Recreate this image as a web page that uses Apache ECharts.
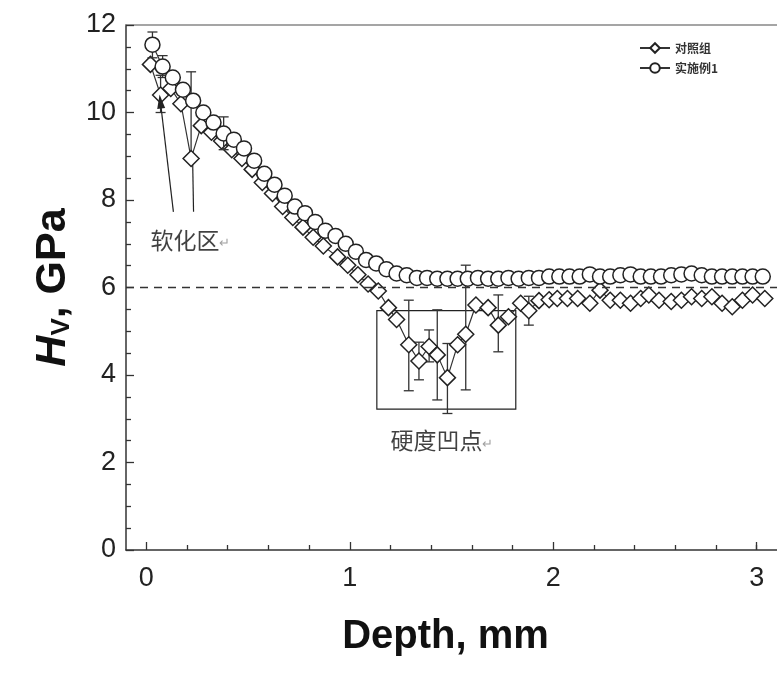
<!DOCTYPE html>
<html><head><meta charset="utf-8">
<script src="https://cdn.jsdelivr.net/npm/echarts@6/dist/echarts.min.js"></script>
<style>html,body{margin:0;padding:0;background:#fff}#c{width:777px;height:678px}</style>
</head><body><div id="c"></div>
<script>
// ---- data ----
const seriesNames = ['对照组', '实施例1'];
const ctrlX = [0.02,0.07,0.12,0.17,0.22,0.27,0.32,0.37,0.42,0.47,0.52,0.57,0.62,0.67,0.72,0.77,0.82,0.87,0.94,0.99,1.04,1.09,1.14,1.19,1.23,1.29,1.34,1.39,1.43,1.48,1.53,1.57,1.62,1.68,1.73,1.78,1.84,1.88,1.93,1.98,2.02,2.07,2.12,2.18,2.23,2.28,2.33,2.38,2.43,2.47,2.52,2.58,2.63,2.68,2.73,2.78,2.83,2.88,2.93,2.98,3.04];
const ctrlY = [11.1,10.4,10.55,10.2,8.95,9.7,9.55,9.35,9.15,8.95,8.7,8.4,8.15,7.85,7.6,7.38,7.15,6.95,6.7,6.51,6.29,6.08,5.92,5.54,5.27,4.69,4.32,4.65,4.46,3.94,4.69,4.93,5.6,5.54,5.14,5.33,5.64,5.47,5.7,5.72,5.75,5.75,5.75,5.64,5.94,5.71,5.71,5.64,5.75,5.83,5.71,5.68,5.71,5.79,5.75,5.79,5.64,5.56,5.71,5.83,5.75];
const exX = [0.03,0.08,0.13,0.18,0.23,0.28,0.33,0.38,0.43,0.48,0.53,0.58,0.63,0.68,0.73,0.78,0.83,0.88,0.93,0.98,1.03,1.08,1.13,1.18,1.23,1.28,1.33,1.38,1.43,1.48,1.53,1.58,1.63,1.68,1.73,1.78,1.83,1.88,1.93,1.98,2.03,2.08,2.13,2.18,2.23,2.28,2.33,2.38,2.43,2.48,2.53,2.58,2.63,2.68,2.73,2.78,2.83,2.88,2.93,2.98,3.03];
const exY = [11.55,11.05,10.8,10.52,10.27,10.0,9.77,9.52,9.38,9.18,8.9,8.6,8.35,8.1,7.85,7.7,7.5,7.3,7.18,7.0,6.82,6.63,6.55,6.42,6.32,6.28,6.22,6.22,6.2,6.2,6.2,6.2,6.22,6.2,6.2,6.22,6.2,6.22,6.22,6.25,6.25,6.25,6.25,6.3,6.25,6.25,6.28,6.3,6.25,6.25,6.25,6.28,6.3,6.32,6.28,6.25,6.25,6.25,6.25,6.25,6.25];
// error bars: [x, low, high]
const ctrlErr = [[0.07,10.0,10.85],[0.22,8.95,10.93],[1.29,3.64,5.71],[1.34,3.89,4.75],[1.39,4.3,5.03],[1.43,3.43,5.49],[1.48,3.12,4.72],[1.57,3.66,6.51],[1.73,4.53,5.83],[1.88,5.14,5.8]];
const exErr = [[0.03,11.25,11.84],[0.08,10.8,11.3],[0.38,9.15,9.9]];
const xMajorTicks = [0,1,2,3];
const xMinorTicks = [0.2,0.4,0.6,0.8,1.2,1.4,1.6,1.8,2.2,2.4,2.6,2.8,3.0];
const refLineY = 6;
const dipBox = [[1.133,5.47],[1.816,3.22]];
const annotations = [[0.02,7.09,'软化区'],[1.2,2.51,'硬度凹点']];
const arrows = [[[0.133,7.73],[0.069,10.25]],[[0.232,7.73],[0.228,8.8]]];

// ---- chart ----
const chart = echarts.init(document.getElementById('c'), null, {renderer:'canvas'});
const zip = (a,b)=>a.map((v,i)=>[v,b[i]]);
function errSeries(data, z){
  return {type:'custom', z:z, silent:true, data:data,
    renderItem:(params, api)=>{
      const x=api.value(0), lo=api.value(1), hi=api.value(2);
      const p1=api.coord([x,lo]), p2=api.coord([x,hi]);
      const s={stroke:'#333', lineWidth:1.3};
      return {type:'group', children:[
        {type:'line', shape:{x1:p1[0],y1:p1[1],x2:p2[0],y2:p2[1]}, style:s},
        {type:'line', shape:{x1:p1[0]-5,y1:p1[1],x2:p1[0]+5,y2:p1[1]}, style:s},
        {type:'line', shape:{x1:p2[0]-5,y1:p2[1],x2:p2[0]+5,y2:p2[1]}, style:s}
      ]};
    }};
}
const font = 'Liberation Sans, Arial, sans-serif';
const option = {
  backgroundColor:'#fff',
  animation:false,
  grid:{left:126, top:25, right:0, bottom:128, containLabel:false},
  legend:{
    data:seriesNames, orient:'vertical', left:634, top:37, itemWidth:30, itemHeight:12, itemGap:8,
    textStyle:{fontFamily:'Noto Sans CJK SC', fontWeight:'bold', fontSize:12, color:'#333'}
  },
  xAxis:[
    {type:'value', min:-0.1, max:3.1, position:'bottom',
     axisLine:{show:true, onZero:false, lineStyle:{color:'#333', width:1.5}},
     axisTick:{show:true, inside:true, length:8, customValues:xMajorTicks, lineStyle:{color:'#333', width:1.3}},
     axisLabel:{customValues:xMajorTicks, fontFamily:font, fontSize:27, color:'#222', margin:15},
     splitLine:{show:false},
     name:'Depth, mm', nameLocation:'middle', nameGap:67,
     nameTextStyle:{fontFamily:font, fontWeight:'bold', fontSize:40, color:'#111', padding:[0,12,0,0]}},
    {type:'value', min:-0.1, max:3.1, position:'bottom',
     axisLine:{show:false}, axisLabel:{show:false}, splitLine:{show:false},
     axisTick:{show:true, inside:true, length:5, customValues:xMinorTicks, lineStyle:{color:'#333', width:1.3}}},
    {type:'value', min:-0.1, max:3.1, position:'top',
     axisLine:{show:true, lineStyle:{color:'#888', width:1.5}}, axisTick:{show:false}, axisLabel:{show:false}, splitLine:{show:false}}
  ],
  yAxis:{type:'value', min:0, max:12, interval:2,
    axisLine:{show:true, onZero:false, lineStyle:{color:'#333', width:1.5}},
    axisTick:{show:true, inside:true, length:8, lineStyle:{color:'#333', width:1.3}},
    minorTick:{show:true, splitNumber:4, length:5, lineStyle:{color:'#333', width:1.3}},
    axisLabel:{fontFamily:font, fontSize:27, color:'#222', margin:10},
    splitLine:{show:false},
    name:'{h|H}{v|V}{t|, GPa}', nameLocation:'middle', nameGap:48, nameRotate:90,
    nameTextStyle:{rich:{
      h:{fontFamily:font, fontWeight:'bold', fontStyle:'italic', fontSize:43, color:'#111'},
      v:{fontFamily:font, fontWeight:'bold', fontSize:26, color:'#111', padding:[18,0,0,0]},
      t:{fontFamily:font, fontWeight:'bold', fontSize:43, color:'#111'}
    }}
  },
  series:[
    errSeries(ctrlErr, 2),
    {name:seriesNames[0], type:'line', z:3, data:zip(ctrlX, ctrlY),
     symbol:'diamond', symbolSize:16, showAllSymbol:true,
     lineStyle:{color:'#333', width:1.2},
     itemStyle:{color:'#fff', borderColor:'#222', borderWidth:1.5}},
    errSeries(exErr, 4),
    {name:seriesNames[1], type:'line', z:5, data:zip(exX, exY),
     symbol:'circle', symbolSize:15, showAllSymbol:true,
     lineStyle:{color:'#333', width:1.2},
     itemStyle:{color:'#fff', borderColor:'#222', borderWidth:1.5}},
    {type:'scatter', z:6, silent:true, symbolSize:0, data:annotations,
     label:{show:true, position:'right', distance:0,
       formatter:p=>'{a|'+p.value[2]+'}{b|↵}',
       rich:{a:{fontFamily:'Noto Sans CJK SC', fontSize:23, color:'#111'}, b:{fontSize:13, color:'#888', padding:[8,0,0,0]}}},
     markLine:{silent:true, symbol:['none','none'], animation:false,
       label:{show:false},
       lineStyle:{color:'#222', width:1.2, type:'solid'},
       data:[
         [{coord:arrows[0][0], symbol:'none'},{coord:arrows[0][1], symbol:'triangle', symbolSize:[8,14]}],
         [{coord:arrows[1][0], symbol:'none'},{coord:arrows[1][1], symbol:'none'}],
         {yAxis:refLineY, symbol:'none', lineStyle:{type:[8,6], color:'#333', width:1.3}}
       ]},
     markArea:{silent:true, itemStyle:{color:'rgba(0,0,0,0)', borderColor:'#222', borderWidth:1.2},
       data:[[{coord:dipBox[0]},{coord:dipBox[1]}]]}
    }
  ]
};
chart.setOption(option);
</script></body></html>
